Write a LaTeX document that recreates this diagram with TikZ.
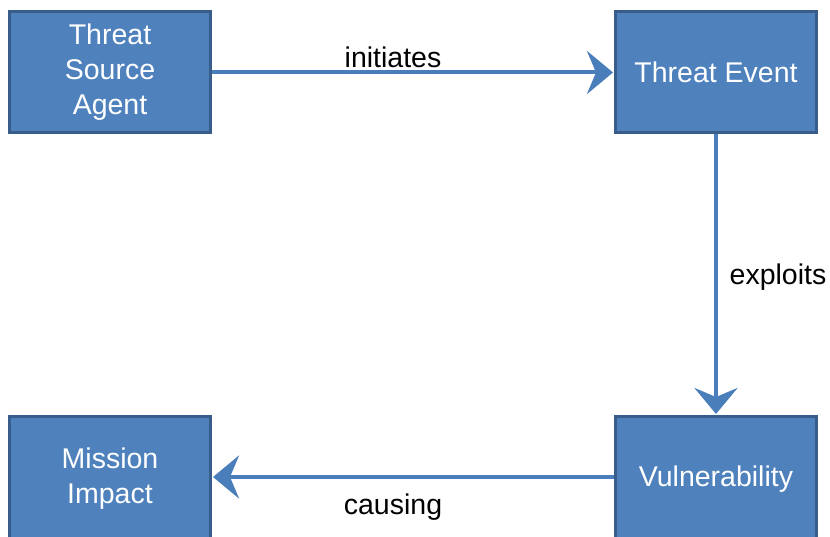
\documentclass[tikz,border=0pt]{standalone}
\usepackage{fontspec}
\setmainfont{Liberation Sans}
\usetikzlibrary{arrows.meta}
\definecolor{boxfill}{HTML}{4F81BD}
\definecolor{boxline}{HTML}{385D8A}
\definecolor{arrowcol}{HTML}{4A7EBB}
\begin{document}
\begin{tikzpicture}[x=1bp,y=-1bp,
  box/.style={draw=boxline, line width=3bp, fill=boxfill, text=white,
    minimum width=201bp, minimum height=121bp, inner sep=0pt,
    align=center, font=\fontsize{28.5bp}{35bp}\selectfont},
  lowbox/.style={box, minimum height=127bp, text depth=8.5bp},
  conn/.style={draw=arrowcol, line width=4bp,
    -{Stealth[length=26bp, width=43bp, inset=9bp]}, shorten >=1bp},
  lbl/.style={font=\fontsize{28.5bp}{35bp}\selectfont, inner sep=0pt}]
\useasboundingbox (0,0) rectangle (830,537);
\node[box] (tsa) at (110,72.5) {Threat\\Source\\Agent};
\node[box] (te) at (716,72.5) {Threat Event};
\node[lowbox] (vul) at (716,480) {Vulnerability};
\node[lowbox] (mi) at (110,480) {Mission\\Impact};
\draw[conn] (tsa.east) -- (te.west);
\draw[conn] (te.south) -- (vul.north);
\draw[conn] ([yshift=3bp]vul.west) -- ([yshift=3bp]mi.east);
\node[lbl] (l1) at (393,57) {initiates};
\node[lbl] (l2) at (778,277) {exploits};
\node[lbl] (l3) at (393,507) {causing};
\end{tikzpicture}
\end{document}
